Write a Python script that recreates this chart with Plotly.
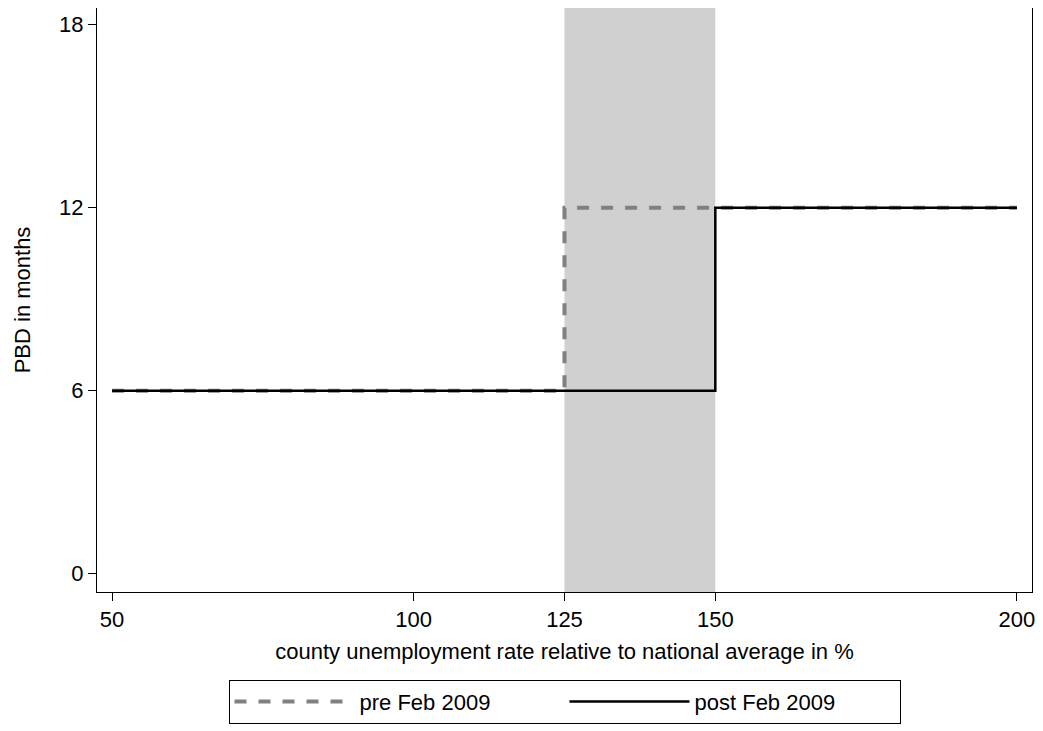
import plotly.graph_objects as go

pre_x = [50, 125, 200]
pre_y = [6, 12, 12]
post_x = [50, 150, 200]
post_y = [6, 12, 12]
band = [125, 150]
x_ticks = [50, 100, 125, 150, 200]
y_ticks = [0, 6, 12, 18]

fig = go.Figure()
fig.add_vrect(x0=band[0], x1=band[1], fillcolor="#d0d0d0", line_width=0, layer="below")
fig.add_trace(go.Scatter(x=pre_x, y=pre_y, mode="lines", line_shape="hv",
                         name="pre Feb 2009",
                         line=dict(color="#808080", width=4, dash="dash")))
fig.add_trace(go.Scatter(x=post_x, y=post_y, mode="lines", line_shape="hv",
                         name="post Feb 2009",
                         line=dict(color="black", width=2.5)))

axis_common = dict(showline=True, linecolor="black", linewidth=1, mirror=True,
                   ticks="outside", ticklen=8, tickcolor="black", showgrid=False,
                   zeroline=False, automargin=False,
                   tickfont=dict(size=22, color="black"))
fig.update_xaxes(range=[47.5, 202.5], tickvals=x_ticks,
                 title=dict(text="county unemployment rate relative to national average in %",
                            font=dict(size=22, color="black"), standoff=12),
                 **axis_common)
fig.update_yaxes(range=[-0.6, 18.55], tickvals=y_ticks,
                 title=dict(text="PBD in months", font=dict(size=22, color="black"), standoff=22),
                 **axis_common)
fig.update_layout(
    width=1035, height=723,
    margin=dict(l=89, r=11, t=0, b=139),
    plot_bgcolor="white", paper_bgcolor="white",
    font=dict(family="Liberation Sans, Arial, sans-serif"),
    legend=dict(orientation="h", x=0.5, xanchor="center", y=-0.15, yanchor="top",
                bordercolor="black", borderwidth=1, font=dict(size=22, color="black"),
                itemwidth=120, entrywidth=200),
)
fig.write_html("out.html")
